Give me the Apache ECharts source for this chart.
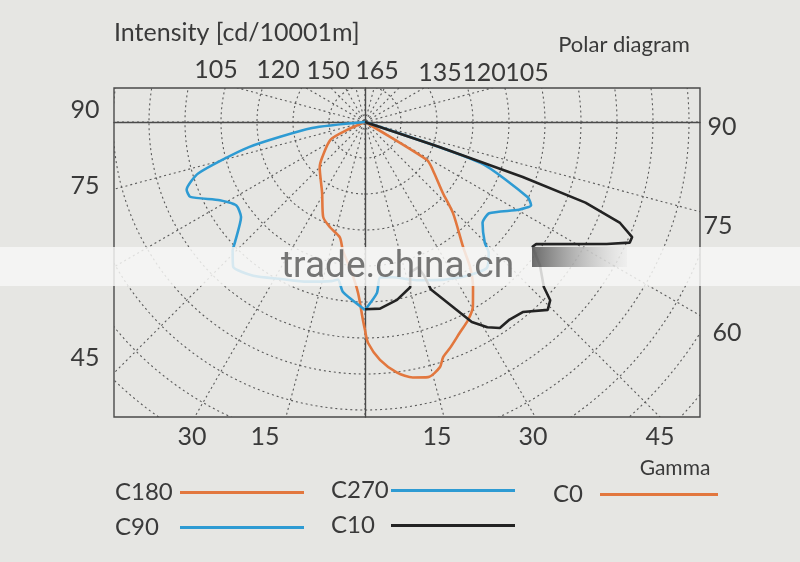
<!DOCTYPE html>
<html>
<head>
<meta charset="utf-8">
<script src="https://cdn.jsdelivr.net/npm/echarts@6/dist/echarts.min.js"></script>
<style>
html,body{margin:0;padding:0;background:#e6e6e3;}
#chart{width:800px;height:562px;}
</style>
</head>
<body>
<div id="chart"></div>
<script>
// ---------- data (gamma in degrees, intensity in cd/1000lm) ----------
const c180Gamma = [90, 66, 62.8, 50.9, 45, 31.2, 23.8, 18.4, 12.3, 9.8, 4.9, 2.3, 0.6, 0];
const c180I     = [0, 28, 54, 76, 89, 115, 144, 154, 164, 181, 211, 238, 275, 289];

const c0Gamma = [0, 0.8, 3.6, 7.3, 10.6, 13.9, 17, 18.4, 20.7, 24.2, 27.5, 30.3, 33.2, 35.9, 38.1, 44, 47.7, 54.8, 58.5, 90];
const c0I     = [289, 307, 331, 351, 361, 365, 356, 344, 335, 321, 310, 297, 274, 249, 221, 176, 146, 115, 101, 0];

const c270Gamma = [0, 7.4, 9.7, 12, 20, 28, 36, 42.3, 45.9, 47.1, 52.5, 57, 61.7, 66.8, 69.2, 72.9, 77.8, 83.5, 90];
const c270I     = [261, 238, 222, 226, 236, 247, 264, 272, 256, 247, 217, 213, 229, 264, 265, 242, 165, 74, 0];

const c90Gamma = [0, 4, 5.5, 10, 18, 26, 34, 39.9, 43.4, 44.8, 49.4, 53.7, 60.3, 63.4, 65.2, 70.5, 90];
const c90I     = [261, 238, 217, 219, 231, 244, 257, 264, 250, 236, 215, 214, 246, 258, 249, 171, 0];

const c10Gamma = [0, 4.6, 10.2, 15.3, 16.7, 20, 21, 21.5, 28.1, 30.8, 33.2, 36.2, 39.7, 44.2, 46.1, 47.3, 50.7, 53.3, 54.5, 63.2, 65.5, 66.7, 68.4, 69.9, 70.8, 71.5, 90];
const c10I     = [260, 260, 251, 238, 218, 215, 228, 250, 315, 332, 342, 340, 343, 364, 357, 338, 314, 290, 292, 376, 404, 404, 381, 326, 232, 108, 0];

// tick labels (gamma angles written on the frame)
const leftTicks   = ['90', '75', '45'];
const rightTicks  = ['90', '75', '60'];
const bottomTicks = ['30', '15', '15', '30', '45'];
const topTicks    = ['105', '120', '150', '165', '135', '120', '105'];

const titleText = 'Intensity [cd/10001m]';
const subTitleText = 'Polar diagram';
const gammaText = 'Gamma';

// ---------- layout ----------
const BG = '#e6e6e3';
const TXT = '#3a3a3a';
const FONT = 'Lato, "Open Sans", sans-serif';
const frame = {left: 114, top: 88, right: 700, bottom: 417};
const center = [365, 122];
const ringPx = 36;           // pixel spacing of the 50-unit circles
const ringUnit = 50;
const rings = 13;
const unitPerPx = ringUnit / ringPx;

const leftTickPos   = [[85,110],[85,186],[85,358]];
const rightTickPos  = [[722,127],[718,226],[727,333]];
const bottomTickPos = [[192,437],[265,437],[437,437],[533,437],[660,437]];
const topTickPos    = [[216,70],[278,70],[328,71],[377,71],[440,73],[484,73],[527,73]];

const ORANGE = '#e2773e';
const BLUE = '#2e9bd3';
const BLACK = '#232323';

function toPolar(gammas, vals, sign) {
  return gammas.map((g, i) => [vals[i], sign * g]);
}

function textEl(str, pos, size, align) {
  const a = align || 'center';
  return {
    type: 'text', x: pos[0], y: pos[1], z: 30, silent: true,
    style: {
      text: str, fill: TXT, font: size + 'px ' + FONT,
      textAlign: a, textVerticalAlign: 'middle',
      align: a, verticalAlign: 'middle'
    }
  };
}

const chart = echarts.init(document.getElementById('chart'), null, {renderer: 'canvas'});

const graphics = [];
// masks outside the frame (hide the polar grid beyond the rectangle)
[[0, 0, 800, frame.top], [0, frame.bottom, 800, 562 - frame.bottom],
 [0, frame.top, frame.left, frame.bottom - frame.top],
 [frame.right, frame.top, 800 - frame.right, frame.bottom - frame.top]].forEach(r => {
  graphics.push({type: 'rect', z: 1, silent: true,
    shape: {x: r[0], y: r[1], width: r[2], height: r[3]}, style: {fill: BG}});
});
leftTicks.forEach((t, i) => graphics.push(textEl(t, leftTickPos[i], 25)));
rightTicks.forEach((t, i) => graphics.push(textEl(t, rightTickPos[i], 25)));
bottomTicks.forEach((t, i) => graphics.push(textEl(t, bottomTickPos[i], 25)));
topTicks.forEach((t, i) => graphics.push(textEl(t, topTickPos[i], 25)));
graphics.push(textEl(titleText, [114, 33], 25, 'left'));
graphics.push(textEl(subTitleText, [624, 45], 22));
graphics.push(textEl(gammaText, [675, 468], 21));

// watermark band of the photographed source
graphics.push({type: 'rect', z: 20, silent: true,
  shape: {x: 0, y: 247, width: 800, height: 39},
  style: {fill: 'rgba(247,247,246,0.84)'}});
graphics.push({type: 'rect', z: 21, silent: true,
  shape: {x: 532, y: 247, width: 95, height: 20},
  style: {fill: new echarts.graphic.LinearGradient(0, 0, 1, 0, [
    {offset: 0, color: 'rgba(60,60,60,0.75)'},
    {offset: 1, color: 'rgba(150,150,150,0.05)'}])}});
graphics.push({type: 'text', x: 281, y: 268, z: 22, silent: true,
  style: {text: 'trade.china.cn', fill: 'rgba(105,105,105,0.92)',
    font: '37px Roboto, sans-serif', textAlign: 'left', textVerticalAlign: 'middle',
    align: 'left', verticalAlign: 'middle'}});

const xMin = -(center[0] - frame.left) * unitPerPx;
const xMax = (frame.right - center[0]) * unitPerPx;
const yMin = -(frame.bottom - center[1]) * unitPerPx;
const yMax = (center[1] - frame.top) * unitPerPx;

const frameLine = {color: '#4a4a4a', width: 1.4};

function lineSeries(name, data, color, smooth) {
  return {
    name: name, type: 'line', coordinateSystem: 'polar', polarIndex: 0,
    data: data, showSymbol: false, symbol: 'none', smooth: smooth, z: 8,
    lineStyle: {color: color, width: 2.6},
    itemStyle: {color: color},
    animation: false
  };
}

function legendStyle(boxW) {
  return {
    fontFamily: FONT, fontSize: 24, color: TXT, lineHeight: 25,
    rich: {a: {width: boxW, align: 'left', fontFamily: FONT, fontSize: 24, color: TXT, lineHeight: 25}}
  };
}

chart.setOption({
  backgroundColor: BG,
  animation: false,
  grid: {left: frame.left, top: frame.top, width: frame.right - frame.left,
         height: frame.bottom - frame.top, show: true, borderColor: '#4a4a4a',
         borderWidth: 1.4, backgroundColor: 'transparent', z: 5},
  xAxis: {type: 'value', min: xMin, max: xMax, z: 5,
          axisLine: {show: true, onZero: true, lineStyle: frameLine},
          axisTick: {show: false}, axisLabel: {show: false}, splitLine: {show: false}},
  yAxis: {type: 'value', min: yMin, max: yMax, z: 5,
          axisLine: {show: true, onZero: true, lineStyle: frameLine},
          axisTick: {show: false}, axisLabel: {show: false}, splitLine: {show: false}},
  polar: {center: center, radius: ringPx * rings},
  angleAxis: {type: 'value', min: -180, max: 180, interval: 15, startAngle: 90,
              clockwise: false, z: 0,
              axisLine: {show: false}, axisTick: {show: false}, axisLabel: {show: false},
              splitLine: {show: true, lineStyle: {type: [2, 3], color: '#5a5a5a', width: 1.1}}},
  radiusAxis: {type: 'value', min: 0, max: ringUnit * rings, interval: ringUnit, z: 0,
               axisLine: {show: false}, axisTick: {show: false}, axisLabel: {show: false},
               splitLine: {show: true, lineStyle: {type: [2, 3], color: '#5a5a5a', width: 1.1}}},
  legend: [
    {data: ['C180', 'C90'], orient: 'vertical', left: 110, top: 475, itemGap: 10,
     itemWidth: 124, itemHeight: 3, icon: 'rect', align: 'right', z: 10,
     formatter: '{a|{name}}', textStyle: legendStyle(60), selectedMode: false},
    {data: ['C270', 'C10'], orient: 'vertical', left: 326, top: 473, itemGap: 10,
     itemWidth: 124, itemHeight: 3, icon: 'rect', align: 'right', z: 10,
     formatter: '{a|{name}}', textStyle: legendStyle(55), selectedMode: false},
    {data: ['C0'], orient: 'vertical', left: 548, top: 477, itemGap: 10,
     itemWidth: 118, itemHeight: 3, icon: 'rect', align: 'right', z: 10,
     formatter: '{a|{name}}', textStyle: legendStyle(42), selectedMode: false}
  ],
  series: [
    lineSeries('C180', toPolar(c180Gamma, c180I, -1), ORANGE, 0.25),
    lineSeries('C0', toPolar(c0Gamma, c0I, 1), ORANGE, 0.25),
    lineSeries('C270', toPolar(c270Gamma, c270I, -1), BLUE, 0.2),
    lineSeries('C90', toPolar(c90Gamma, c90I, 1), BLUE, 0.2),
    lineSeries('C10', toPolar(c10Gamma, c10I, 1), BLACK, false)
  ],
  graphic: {elements: graphics}
});
</script>
</body>
</html>
